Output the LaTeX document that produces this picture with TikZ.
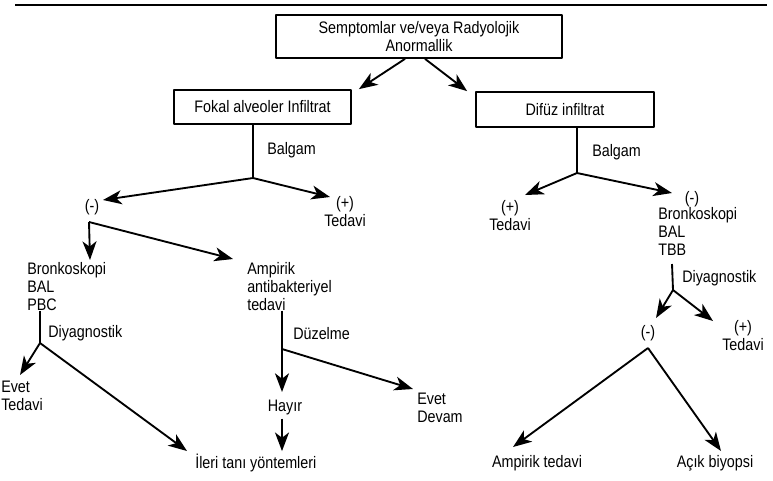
\documentclass[tikz,border=0pt]{standalone}
\usepackage{fontspec}
\setmainfont{Liberation Sans}[FakeStretch=0.86]
\usetikzlibrary{arrows.meta}
\tikzset{
	kutu/.style={draw, line width=1.3pt, inner sep=0pt, align=center},
	yazi/.style={inner sep=0pt, align=left},
	ok/.style={line width=1.4pt, -{Stealth[length=14pt,width=10.5pt,inset=4pt]}},
	cizgi/.style={line width=1.4pt},
}
\begin{document}
\begin{tikzpicture}[x=0.75pt, y=-0.75pt, font=\fontsize{12.5}{13.5}\selectfont, line join=round]
	\useasboundingbox (0,0) rectangle (773,480);
	\draw[line width=1.5pt] (15,5) -- (767,5);
	
	% kutular
	\node[kutu, minimum width=214.5pt, minimum height=32.25pt] (top) at (419,36.5) {Semptomlar ve/veya Radyolojik\\Anormallik};
	\node[kutu, minimum width=132.75pt, minimum height=25.5pt] (fokal) at (262.5,107) {Fokal alveoler Infiltrat};
	\node[kutu, minimum width=133.5pt, minimum height=26.25pt] (difuz) at (565,109.5) {Difüz infiltrat};
	\draw[ok] ([xshift=-10.5pt]top.south) -- ([shift={(7,0)}]fokal.north east);
	\draw[ok] ([xshift=4.5pt]top.south) -- ([shift={(-8,0)}]difuz.north west);
	
	% sol dal
	\coordinate (b1) at (253,178);
	\draw[cizgi] (fokal.south -| b1) -- (b1);
	\node[yazi, anchor=west] (balgam1) at (267,150) {Balgam};
	\node[yazi] (neg1) at (92,207) {(-)};
	\node[yazi, align=center] (pos1) at (345,212) {(+)\\Tedavi};
	\draw[ok] (b1) -- ([shift={(11,-7)}]neg1.center);
	\draw[ok] (b1) -- ([shift={(-15,-15)}]pos1.center);
	
	\coordinate (b2) at (89,222);
	\node[yazi, anchor=north west] (bronk1) at (27,262) {Bronkoskopi\\BAL\\PBC};
	\node[yazi, anchor=north west] (ampirik1) at (247,262) {Ampirik\\antibakteriyel\\tedavi};
	\draw[ok] (b2) -- (90,260);
	\draw[ok] (b2) -- ([shift={(-14,-3)}]ampirik1.north west);
	
	\coordinate (b3) at (40,343);
	\draw[cizgi] (bronk1.south -| b3) -- (b3);
	\node[yazi, anchor=west] (diy1) at (48,333) {Diyagnostik};
	\node[yazi, anchor=north west] (evet1) at (1,381) {Evet\\Tedavi};
	\node[yazi, anchor=west] (ileri) at (195,463) {İleri tanı yöntemleri};
	\draw[ok] (b3) -- ([shift={(19,-6)}]evet1.north west);
	\draw[ok] (b3) -- ([shift={(-8,-12)}]ileri.west);
	
	\coordinate (b4) at (282,349);
	\draw[cizgi] (ampirik1.south -| b4) -- (b4);
	\node[yazi, anchor=west] (duz) at (293,334) {Düzelme};
	\node[yazi] (hayir) at (285,407) {Hayır};
	\node[yazi, anchor=north west] (evet2) at (417,393) {Evet\\Devam};
	\draw[ok] (b4) -- (b4 |- 0,392);
	\draw[ok] (b4) -- ([shift={(-4,-4)}]evet2.north west);
	\draw[ok] ([yshift=-3pt]hayir.south -| b4) -- ([yshift=2pt]ileri.north -| b4);
	
	% sag dal
	\coordinate (b5) at (577,173);
	\draw[cizgi] (difuz.south -| b5) -- (b5);
	\node[yazi, anchor=west] (balgam2) at (592,152) {Balgam};
	\node[yazi, align=center] (pos2) at (510,216) {(+)\\Tedavi};
	\node[yazi] (neg2) at (692,199) {(-)};
	\node[yazi, anchor=north west] (bronk2) at (658,207) {Bronkoskopi\\BAL\\TBB};
	\draw[ok] (b5) -- ([shift={(15,-21)}]pos2.center);
	\draw[ok] (b5) -- ([shift={(-20,-6)}]neg2.center);
	
	\coordinate (b6) at (673,290);
	\draw[cizgi] (672,264) -- (b6);
	\node[yazi, anchor=west] (diy2) at (682,278) {Diyagnostik};
	\node[yazi] (neg3) at (648,333) {(-)};
	\node[yazi, align=center] (pos3) at (743,336) {(+)\\Tedavi};
	\draw[ok] (b6) -- ([shift={(8,-15)}]neg3.center);
	\draw[ok] (b6) -- ([shift={(-30,-15)}]pos3.center);
	
	\coordinate (b7) at (648,348);
	\node[yazi] (amp2) at (537,463) {Ampirik tedavi};
	\node[yazi] (acik) at (715,463) {Açık biyopsi};
	\draw[ok] (b7) -- ([shift={(-24,-16)}]amp2.center);
	\draw[ok] (b7) -- ([shift={(6,-12)}]acik.center);
\end{tikzpicture}
\end{document}
